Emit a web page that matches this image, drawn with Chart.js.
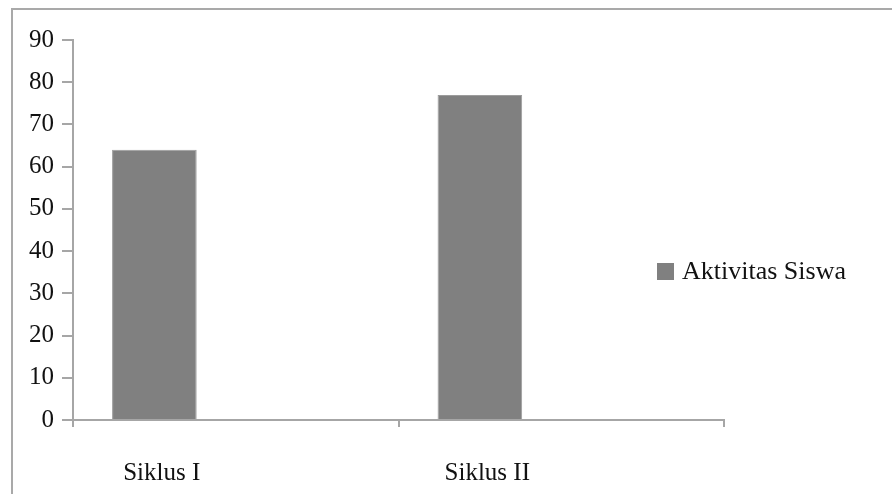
<!DOCTYPE html>
<html>
<head>
<meta charset="utf-8">
<script src="https://cdn.jsdelivr.net/npm/chart.js@4.4.1/dist/chart.umd.min.js"></script>
<style>
  html, body { margin: 0; padding: 0; background: #ffffff; }
  #wrap { position: relative; width: 892px; height: 494px; overflow: hidden; }
  #frame { position: absolute; left: 11px; top: 8px; width: 900px; height: 500px;
           border: 2px solid #a9a9a9; box-sizing: border-box; }
  #chart { position: absolute; left: 0; top: 0; }
</style>
</head>
<body>
<div id="wrap">
  <div id="frame"></div>
  <canvas id="chart" width="892" height="494"></canvas>
</div>
<script>
// Student activity per cycle
const categories = ['Siklus I', 'Siklus II'];
const seriesName = 'Aktivitas Siswa';
const activityValues = [64, 77];
// Empty companion column: keeps each bar in the left half of its category
const spacerValues = [null, null];
const yTicks = [0, 10, 20, 30, 40, 50, 60, 70, 80, 90];

const FONT = "'Liberation Serif', 'Times New Roman', serif";
const BAR = '#808080';
const AXIS = '#a6a6a6';

// Legend drawn to the right, overlapping the empty right part of the plot
const sideLegend = {
  id: 'sideLegend',
  afterDraw(chart) {
    const { ctx, chartArea } = chart;
    const ds = chart.data.datasets[0];
    const x = chartArea.right - 67;
    const y = chartArea.top + 223;
    ctx.save();
    ctx.fillStyle = ds.backgroundColor;
    ctx.fillRect(x, y, 17, 17);
    ctx.fillStyle = '#111111';
    ctx.font = '26px ' + FONT;
    ctx.textBaseline = 'middle';
    ctx.textAlign = 'left';
    ctx.fillText(ds.label, x + 25, y + 9);
    ctx.restore();
  }
};

new Chart(document.getElementById('chart'), {
  type: 'bar',
  data: {
    labels: categories,
    datasets: [
      {
        label: seriesName,
        data: activityValues,
        backgroundColor: BAR,
        borderColor: '#9c9c9c',
        borderWidth: 1,
        categoryPercentage: 1.0,
        barPercentage: 0.52
      },
      {
        label: '',
        data: spacerValues,
        backgroundColor: BAR,
        categoryPercentage: 1.0,
        barPercentage: 0.52
      }
    ]
  },
  options: {
    responsive: false,
    animation: false,
    layout: { padding: { top: 40, right: 168, left: 0, bottom: 0 } },
    plugins: {
      legend: { display: false },
      tooltip: { enabled: false }
    },
    scales: {
      x: {
        type: 'category',
        offset: true,
        grid: {
          offset: true,
          drawOnChartArea: false,
          drawTicks: true,
          tickLength: 7,
          color: AXIS,
          lineWidth: 2
        },
        border: { display: true, color: AXIS, width: 2 },
        ticks: {
          font: { family: FONT, size: 25 },
          color: '#111111',
          padding: 31,
          labelOffset: -74,
          maxRotation: 0
        },
        afterFit(scale) { scale.height = 74; }
      },
      y: {
        min: 0,
        max: 90,
        afterBuildTicks(scale) { scale.ticks = yTicks.map(v => ({ value: v })); },
        grid: {
          drawOnChartArea: false,
          drawTicks: true,
          tickLength: 11,
          color: AXIS,
          lineWidth: 2
        },
        border: { display: true, color: AXIS, width: 2 },
        ticks: {
          font: { family: FONT, size: 25 },
          color: '#111111',
          padding: 8
        },
        afterFit(scale) { scale.width = 73; }
      }
    }
  },
  plugins: [sideLegend]
});
</script>
</body>
</html>
